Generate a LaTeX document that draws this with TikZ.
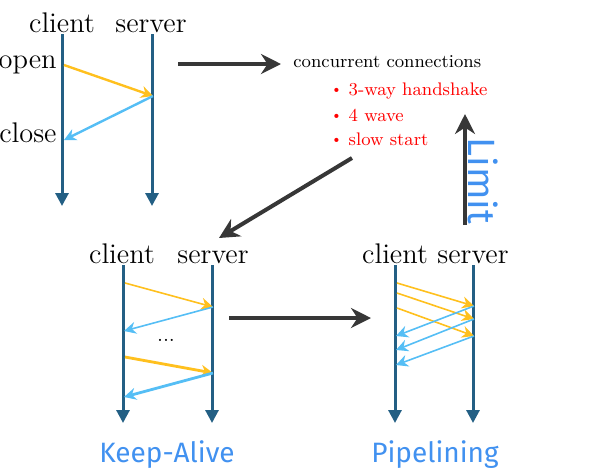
\documentclass[tikz,border=0pt]{standalone}
\usepackage{fontspec}
\newfontfamily\modefont{Fira Sans}
\usetikzlibrary{arrows.meta}
\usetikzlibrary{arrows}
\definecolor{lifeblue}{RGB}{35,95,132}
\definecolor{reqyellow}{RGB}{255,192,30}
\definecolor{respblue}{RGB}{85,190,245}
\definecolor{stepgray}{RGB}{55,55,55}
\definecolor{modeblue}{RGB}{65,145,240}
\newcommand{\dotitem}{\raisebox{0.6pt}{\scriptsize\textbullet}\hspace{3pt}}
\tikzstyle{party} = [font=\fontsize{14.2}{16}\selectfont, inner sep=0pt, anchor=base]
\tikzstyle{note} = [font=\fontsize{9.1}{12}\selectfont, inner sep=0pt, anchor=base west]
\tikzstyle{lifeline} = [lifeblue, line width=1.5pt, -{Triangle[length=6.5pt,width=6.5pt]}]
\tikzstyle{req} = [reqyellow, line width=1pt, -{Stealth[length=6pt,width=6pt]}]
\tikzstyle{resp} = [respblue, line width=1pt, -{Stealth[length=6pt,width=6pt]}]
\tikzstyle{arrow} = [stepgray, line width=2pt, -{Stealth[length=10pt,width=10pt]}]
\tikzstyle{mode} = [font=\modefont\fontsize{14}{16}\selectfont, text=modeblue, inner sep=0pt]

\begin{document}
\begin{tikzpicture}[x=0.5pt, y=-0.5pt]
        \useasboundingbox (0,0) rectangle (595,473);
        % single request
        \node (client1) [party] at (62,32) {client};
        \node (server1) [party] at (151,32) {server};
        \node (open) [party, anchor=base east] at (57,68) {open};
        \node (close) [party, anchor=base east] at (57,142) {close};
        \coordinate (c1top) at (62,34);
        \coordinate (c1end) at (62,206);
        \coordinate (s1top) at (152,34);
        \coordinate (s1end) at (152,206);
        \draw [lifeline] (c1top) -- (c1end);
        \draw [lifeline] (s1top) -- (s1end);
        \coordinate (c1a) at (64,65);
        \coordinate (s1a) at (153,96);
        \coordinate (c1b) at (64,140);
        \draw [req, line width=1.2pt] (c1a) -- (s1a);
        \draw [resp, line width=1.2pt] (s1a) -- (c1b);
        % cost
        \node (cost) [note] at (293,67) {concurrent connections};
        \node (hand) [note, text=red] at (330,95) {\dotitem 3-way handshake};
        \node (wave) [note, text=red] at (330,121) {\dotitem 4 wave};
        \node (slow) [note, text=red] at (330,145) {\dotitem slow start};
        \coordinate (go1) at (178,64);
        \coordinate (go1end) at (281,64);
        \draw [arrow] (go1) -- (go1end);
        \coordinate (go2) at (352,158);
        \coordinate (go2end) at (219,238);
        \draw [arrow] (go2) -- (go2end);
        \coordinate (lim) at (465,225);
        \coordinate (limend) at (465,114);
        \draw [arrow] (lim) -- (limend);
        \node (limit) [mode, font=\modefont\fontsize{19}{20}\selectfont, rotate=-90] at (483,181) {Limit};
        % keep-alive
        \node (client2) [party] at (122,263) {client};
        \node (server2) [party] at (213,263) {server};
        \coordinate (c2top) at (123,265);
        \coordinate (c2end) at (123,423);
        \coordinate (s2top) at (212,265);
        \coordinate (s2end) at (212,423);
        \draw [lifeline] (c2top) -- (c2end);
        \draw [lifeline] (s2top) -- (s2end);
        \coordinate (c2a) at (125,283);
        \coordinate (s2a) at (213,307);
        \coordinate (c2b) at (124,331);
        \coordinate (c2c) at (125,357);
        \coordinate (s2c) at (213,373);
        \coordinate (c2d) at (124,397);
        \draw [req, line width=0.8pt] (c2a) -- (s2a);
        \draw [resp, line width=0.8pt] (s2a) -- (c2b);
        \draw [req, line width=1.4pt] (c2c) -- (s2c);
        \draw [resp, line width=1.4pt] (s2c) -- (c2d);
        \node (more) [font=\fontsize{11}{12}\selectfont] at (166,340) {...};
        \node (keep) [mode] at (167,455) {Keep-Alive};
        \coordinate (go3) at (229,318);
        \coordinate (go3end) at (371,318);
        \draw [arrow] (go3) -- (go3end);
        % pipelining
        \node (client3) [party] at (395,263) {client};
        \node (server3) [party] at (473,263) {server};
        \coordinate (c3top) at (395,265);
        \coordinate (c3end) at (395,423);
        \coordinate (s3top) at (473,265);
        \coordinate (s3end) at (473,423);
        \draw [lifeline] (c3top) -- (c3end);
        \draw [lifeline] (s3top) -- (s3end);
        \coordinate (c3a) at (397,283);
        \coordinate (c3b) at (397,293);
        \coordinate (c3c) at (397,308);
        \coordinate (s3a) at (474,306);
        \coordinate (s3b) at (474,319);
        \coordinate (s3c) at (474,336);
        \coordinate (c3d) at (396,336);
        \coordinate (c3e) at (396,350);
        \coordinate (c3f) at (396,365);
        \draw [req, line width=0.8pt] (c3a) -- (s3a);
        \draw [req, line width=0.8pt] (c3b) -- (s3b);
        \draw [req, line width=0.8pt] (c3c) -- (s3c);
        \draw [resp, line width=0.8pt] (s3a) -- (c3d);
        \draw [resp, line width=0.8pt] (s3b) -- (c3e);
        \draw [resp, line width=0.8pt] (s3c) -- (c3f);
        \node (pipe) [mode] at (435,455) {Pipelining};
    \end{tikzpicture}
\end{document}
